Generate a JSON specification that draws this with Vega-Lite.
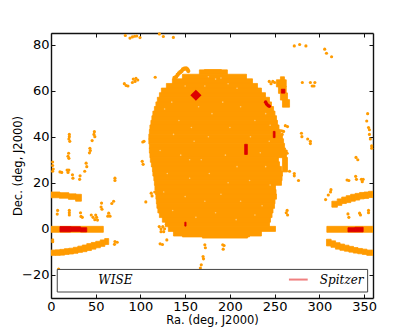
{
"$schema":"https://vega.github.io/schema/vega-lite/v6.json",
"width":322,"height":265,"autosize":"none",
"padding":{"left":51,"top":33,"right":42,"bottom":34},
"background":"white",
"config":{"view":{"stroke":null},"axis":{"grid":false,"domainColor":"#111","domainWidth":1.4,"tickColor":"#111","tickSize":-4,"tickWidth":1,"labelFont":"DejaVu Sans","labelFontSize":13,"labelColor":"#000","titleFont":"DejaVu Sans","titleFontSize":11.5,"titleFontWeight":"normal","titleColor":"#000","labelPadding":4,"zindex":1}},
"datasets":{
"strips":[
{"ra":171.5,"ra2":190.5,"dec":68.6,"dec2":69.1},
{"ra":165.9,"ra2":197.2,"dec":66.9,"dec2":69},
{"ra":146.9,"ra2":218.6,"dec":64.9,"dec2":67.1},
{"ra":135.7,"ra2":225.3,"dec":62.9,"dec2":65.1},
{"ra":129,"ra2":230.9,"dec":60.9,"dec2":63.1},
{"ra":123.4,"ra2":235.3,"dec":58.9,"dec2":61.1},
{"ra":121.2,"ra2":239.8,"dec":56.9,"dec2":59.1},
{"ra":118.9,"ra2":244.3,"dec":54.9,"dec2":57.1},
{"ra":117.3,"ra2":246.5,"dec":52.9,"dec2":55.1},
{"ra":115.6,"ra2":248.8,"dec":50.9,"dec2":53.1},
{"ra":113.9,"ra2":250.4,"dec":48.9,"dec2":51.1},
{"ra":112.8,"ra2":252.1,"dec":46.9,"dec2":49.1},
{"ra":111.7,"ra2":253.2,"dec":44.9,"dec2":47.1},
{"ra":110.6,"ra2":254.9,"dec":42.9,"dec2":45.1},
{"ra":110,"ra2":256.6,"dec":40.9,"dec2":43.1},
{"ra":109.4,"ra2":258.8,"dec":38.9,"dec2":41.1},
{"ra":109.4,"ra2":260,"dec":36.9,"dec2":39.1},
{"ra":110,"ra2":261.1,"dec":34.9,"dec2":37.1},
{"ra":110,"ra2":262.2,"dec":32.9,"dec2":35.1},
{"ra":110.6,"ra2":263.3,"dec":30.9,"dec2":33.1},
{"ra":111.1,"ra2":254.3,"dec":28.9,"dec2":31.1},
{"ra":112.2,"ra2":255.5,"dec":26.9,"dec2":29.1},
{"ra":113.4,"ra2":257.7,"dec":24.9,"dec2":27.1},
{"ra":113.9,"ra2":258.8,"dec":22.9,"dec2":25.1},
{"ra":115,"ra2":258.3,"dec":20.9,"dec2":23.1},
{"ra":115.6,"ra2":257.7,"dec":18.9,"dec2":21.1},
{"ra":116.2,"ra2":251,"dec":16.9,"dec2":19.1},
{"ra":116.7,"ra2":251.6,"dec":14.9,"dec2":17.1},
{"ra":117.3,"ra2":252.1,"dec":12.9,"dec2":15.1},
{"ra":117.8,"ra2":250.4,"dec":10.9,"dec2":13.1},
{"ra":118.4,"ra2":249.9,"dec":8.9,"dec2":11.1},
{"ra":119.5,"ra2":248.2,"dec":6.9,"dec2":9.1},
{"ra":121.2,"ra2":247.1,"dec":4.9,"dec2":7.1},
{"ra":124.5,"ra2":245.4,"dec":2.9,"dec2":5.1},
{"ra":127.9,"ra2":244.3,"dec":0.9,"dec2":3.1},
{"ra":131.2,"ra2":251,"dec":-1.1,"dec2":1.1},
{"ra":136.9,"ra2":235.3,"dec":-3.1,"dec2":-0.9},
{"ra":146.9,"ra2":221.9,"dec":-3.5,"dec2":-2.9},
{"ra":169.3,"ra2":219.7,"dec":-4,"dec2":-3.4},
{"ra":258.8,"ra2":264.4,"dec":24.7,"dec2":31},
{"ra":256.5,"ra2":261,"dec":64.5,"dec2":66},
{"ra":252,"ra2":263,"dec":61.6,"dec2":64.7},
{"ra":254.3,"ra2":263,"dec":58.8,"dec2":61.8},
{"ra":256.5,"ra2":264.4,"dec":55.9,"dec2":59},
{"ra":258.8,"ra2":266.7,"dec":52.8,"dec2":56.1},
{"ra":0,"ra2":10,"dec":13.5,"dec2":16},
{"ra":9.5,"ra2":20,"dec":13.3,"dec2":15.7},
{"ra":19.5,"ra2":28,"dec":12.8,"dec2":15.2},
{"ra":27.5,"ra2":34,"dec":12,"dec2":15},
{"ra":0,"ra2":58.5,"dec":-1.5,"dec2":1.1},
{"ra":308.4,"ra2":360,"dec":-1.5,"dec2":1.1},
{"ra":0,"ra2":5.2,"dec":-11.5,"dec2":-9.2},
{"ra":5,"ra2":10.2,"dec":-11.5,"dec2":-9.1},
{"ra":10,"ra2":15.2,"dec":-11.4,"dec2":-8.9},
{"ra":15,"ra2":20.2,"dec":-11.1,"dec2":-8.6},
{"ra":20,"ra2":25.2,"dec":-10.9,"dec2":-8.4},
{"ra":25,"ra2":30.2,"dec":-10.6,"dec2":-8},
{"ra":30,"ra2":35.2,"dec":-10.2,"dec2":-7.5},
{"ra":35,"ra2":40.2,"dec":-9.9,"dec2":-7},
{"ra":40,"ra2":45.2,"dec":-9.4,"dec2":-6.4},
{"ra":45,"ra2":50.2,"dec":-8.8,"dec2":-5.9},
{"ra":50,"ra2":55.2,"dec":-8.2,"dec2":-5.4},
{"ra":55,"ra2":60.2,"dec":-7.6,"dec2":-4.8},
{"ra":60,"ra2":64.5,"dec":-6.8,"dec2":-4.2},
{"ra":314,"ra2":320.2,"dec":9.4,"dec2":12},
{"ra":320,"ra2":325.2,"dec":10.2,"dec2":13},
{"ra":325,"ra2":330.2,"dec":11,"dec2":13.8},
{"ra":330,"ra2":335.2,"dec":11.4,"dec2":14.4},
{"ra":335,"ra2":340.2,"dec":12,"dec2":15},
{"ra":340,"ra2":345.2,"dec":12.5,"dec2":15.4},
{"ra":345,"ra2":350.2,"dec":13,"dec2":15.8},
{"ra":350,"ra2":355.2,"dec":13.2,"dec2":16},
{"ra":355,"ra2":360,"dec":13.6,"dec2":16.3},
{"ra":308,"ra2":313.2,"dec":-7.4,"dec2":-4.5},
{"ra":313,"ra2":318.2,"dec":-8,"dec2":-5.2},
{"ra":318,"ra2":323.2,"dec":-8.8,"dec2":-6},
{"ra":323,"ra2":328.2,"dec":-9.3,"dec2":-6.6},
{"ra":328,"ra2":333.2,"dec":-9.7,"dec2":-7.1},
{"ra":333,"ra2":338.2,"dec":-10.1,"dec2":-7.6},
{"ra":338,"ra2":343.2,"dec":-10.5,"dec2":-8.1},
{"ra":343,"ra2":348.2,"dec":-10.8,"dec2":-8.5},
{"ra":348,"ra2":353.2,"dec":-11.1,"dec2":-8.8},
{"ra":353,"ra2":360,"dec":-11.5,"dec2":-9.2}
],
"wise":[
{"ra":83.1,"dec":83.9},{"ra":88.3,"dec":82.8},{"ra":91,"dec":83.3},{"ra":93.5,"dec":83.6},{"ra":95.8,"dec":83.7},{"ra":99.5,"dec":83},{"ra":121.2,"dec":84.6},{"ra":125.6,"dec":83.5},{"ra":136.8,"dec":83.1},
{"ra":82,"dec":63},{"ra":84,"dec":62.2},{"ra":86,"dec":62},{"ra":91,"dec":63.5},{"ra":92,"dec":65},{"ra":94,"dec":64},{"ra":95,"dec":65.3},{"ra":97,"dec":64.6},{"ra":116.5,"dec":65.8},
{"ra":20.5,"dec":41},{"ra":20.5,"dec":40},{"ra":20,"dec":39},{"ra":21,"dec":38},{"ra":19.7,"dec":32.8},{"ra":19,"dec":31.5},{"ra":20,"dec":30.6},
{"ra":48.5,"dec":42.2},{"ra":48,"dec":41},{"ra":49,"dec":40},{"ra":46,"dec":38.3},{"ra":43.5,"dec":35},{"ra":44,"dec":34},{"ra":43,"dec":33},
{"ra":39.3,"dec":28.5},{"ra":40,"dec":27},{"ra":37.7,"dec":25},{"ra":1.8,"dec":29},{"ra":1.8,"dec":27.5},{"ra":2.5,"dec":26},{"ra":1.8,"dec":25},{"ra":10,"dec":24.7},{"ra":12,"dec":24.5},
{"ra":18,"dec":25.5},{"ra":20,"dec":25.5},{"ra":19,"dec":24.5},{"ra":24,"dec":23.5},{"ra":24.5,"dec":22},{"ra":32.5,"dec":23},{"ra":32,"dec":21.5},
{"ra":102.6,"dec":37.7},{"ra":104,"dec":38},{"ra":102,"dec":29.3},{"ra":103,"dec":28},{"ra":71.5,"dec":22},{"ra":71.5,"dec":21},{"ra":70,"dec":12},{"ra":68,"dec":11},
{"ra":56.5,"dec":11.2},{"ra":56,"dec":9.5},{"ra":57,"dec":8.5},{"ra":7.4,"dec":8},{"ra":7,"dec":6.4},{"ra":20.5,"dec":8},{"ra":20.5,"dec":7},{"ra":20.5,"dec":6},{"ra":33,"dec":7},{"ra":33.5,"dec":5.4},{"ra":35,"dec":5},
{"ra":45,"dec":6},{"ra":47,"dec":5},{"ra":50,"dec":6},{"ra":51,"dec":5},{"ra":49,"dec":4},{"ra":52,"dec":3.8},{"ra":64.5,"dec":6.8},{"ra":63.5,"dec":5.5},{"ra":66,"dec":5.5},
{"ra":1.9,"dec":-4.8},{"ra":1.9,"dec":-5.6},{"ra":71.5,"dec":-5.5},{"ra":71,"dec":-6.7},{"ra":74,"dec":-5.8},
{"ra":116,"dec":16},{"ra":106,"dec":11.7},{"ra":112,"dec":15.5},{"ra":113,"dec":14.3},
{"ra":129.5,"dec":-4.8},{"ra":124.6,"dec":-6.8},{"ra":122,"dec":-6.5},{"ra":170,"dec":-12},{"ra":170.5,"dec":-13},{"ra":168,"dec":-15.6},{"ra":167,"dec":-17},{"ra":8.5,"dec":-17.4},
{"ra":172.6,"dec":-8.2},{"ra":172,"dec":-6.9},{"ra":192,"dec":-6.9},{"ra":193.5,"dec":-7.2},{"ra":192.5,"dec":-8.8},{"ra":264,"dec":8},{"ra":263,"dec":7},{"ra":264.5,"dec":6},
{"ra":121,"dec":1},{"ra":123,"dec":0},{"ra":125,"dec":1},{"ra":127,"dec":0},{"ra":123,"dec":-1.2},{"ra":126,"dec":-1.2},{"ra":129,"dec":2},
{"ra":313,"dec":17},{"ra":312.5,"dec":16},{"ra":310,"dec":14.7},{"ra":307,"dec":12.7},
{"ra":332,"dec":6.5},{"ra":333,"dec":5},{"ra":345,"dec":6.8},{"ra":346,"dec":6},{"ra":355,"dec":8},{"ra":355,"dec":7},
{"ra":331,"dec":21.2},{"ra":333,"dec":21},{"ra":340.6,"dec":22.8},{"ra":341.5,"dec":21.5},{"ra":347,"dec":21.5},{"ra":349,"dec":21.5},{"ra":348,"dec":20.5},{"ra":341,"dec":31},{"ra":343,"dec":30},
{"ra":280,"dec":41.5},{"ra":280.5,"dec":40},{"ra":287,"dec":39},{"ra":290,"dec":38},{"ra":290,"dec":37},{"ra":266.7,"dec":25},{"ra":272,"dec":24},{"ra":272,"dec":23},{"ra":276.7,"dec":21},
{"ra":354,"dec":50},{"ra":353,"dec":46.8},{"ra":355,"dec":44},{"ra":356,"dec":43},{"ra":357,"dec":39},{"ra":356,"dec":41},{"ra":358.5,"dec":35},{"ra":358.5,"dec":36},
{"ra":272,"dec":79.4},{"ra":278,"dec":80},{"ra":285,"dec":79.4},{"ra":306,"dec":78},{"ra":308,"dec":76.2},{"ra":313.7,"dec":74.7},
{"ra":281,"dec":63.5},{"ra":290,"dec":63.5},{"ra":292,"dec":62},{"ra":295,"dec":63.5},{"ra":294,"dec":62},
{"ra":244,"dec":64},{"ra":246,"dec":63},{"ra":248,"dec":64},{"ra":250,"dec":63.5},
{"ra":262,"dec":44.8},{"ra":264.4,"dec":44.4},{"ra":258,"dec":42.5},{"ra":260,"dec":42.3},{"ra":258.5,"dec":41},{"ra":263,"dec":33.8},{"ra":264,"dec":32.8}
],
"hook":[
{"ra":138,"dec":65.5},{"ra":140,"dec":66},{"ra":141.5,"dec":66.8},{"ra":143,"dec":67.5},{"ra":144.5,"dec":68},{"ra":146,"dec":68.5},{"ra":147.5,"dec":69.2},{"ra":149,"dec":69.5},{"ra":151,"dec":69.6},{"ra":152.5,"dec":69.2},{"ra":153.5,"dec":68.5}
],
"specks":[
{"ra":176,"dec":66},{"ra":184,"dec":65},{"ra":190,"dec":65.5},{"ra":150,"dec":62},{"ra":172,"dec":62},{"ra":198,"dec":63},{"ra":208,"dec":61},{"ra":135,"dec":55},{"ra":127,"dec":52},{"ra":143,"dec":47},{"ra":165,"dec":53},{"ra":180,"dec":50},{"ra":192,"dec":55},{"ra":212,"dec":53},{"ra":228,"dec":47},{"ra":240,"dec":50},{"ra":137,"dec":41},{"ra":157,"dec":44},{"ra":176,"dec":40},{"ra":200,"dec":44},{"ra":223,"dec":40},{"ra":244,"dec":38},{"ra":122,"dec":34},{"ra":145,"dec":32},{"ra":168,"dec":30},{"ra":195,"dec":32},{"ra":208,"dec":27},{"ra":240,"dec":27},{"ra":130,"dec":24},{"ra":155,"dec":22},{"ra":177,"dec":24},{"ra":198,"dec":20},{"ra":222,"dec":21},{"ra":245,"dec":19},{"ra":126,"dec":16},{"ra":150,"dec":14},{"ra":172,"dec":12},{"ra":190,"dec":15},{"ra":212,"dec":12},{"ra":236,"dec":10},{"ra":136,"dec":8},{"ra":162,"dec":5},{"ra":184,"dec":7},{"ra":207,"dec":4},{"ra":228,"dec":6},{"ra":155,"dec":30},{"ra":245,"dec":45},{"ra":160,"dec":38},{"ra":234,"dec":33}
],
"redstrips":[
{"ra":10,"ra2":22,"dec":-1.3,"dec2":1},
{"ra":22,"ra2":33,"dec":-1.1,"dec2":0.9},
{"ra":33,"ra2":40,"dec":-1.3,"dec2":0.5},
{"ra":332,"ra2":340,"dec":-1.3,"dec2":0.5},
{"ra":340,"ra2":349,"dec":-1.3,"dec2":0.7},
{"ra":216.5,"ra2":219.5,"dec":32.3,"dec2":36.7},
{"ra":248.5,"ra2":250.5,"dec":39.6,"dec2":42.3},
{"ra":257.5,"ra2":261.5,"dec":58.9,"dec2":60.6},
{"ra":149.6,"ra2":151,"dec":1.2,"dec2":2.9}
],
"red":[
{"ra":240,"dec":55},{"ra":241,"dec":54.2},{"ra":242.5,"dec":53.6},{"ra":244,"dec":53.2}
],
"diamond":[{"ra":162,"dec":58}],
"box":[{"ra":7,"ra2":354,"dec":-27.4,"dec2":-17.6}],
"labels":[{"ra":72,"dec":-22,"label":"WISE"},{"ra":325,"dec":-22,"label":"Spitzer"}],
"line":[{"ra":266,"ra2":287,"dec":-22}]
},
"encoding":{
"x":{"field":"ra","type":"quantitative","scale":{"domain":[0,360],"nice":false}},
"y":{"field":"dec","type":"quantitative","scale":{"domain":[-30,85],"nice":false}}
},
"layer":[
{"data":{"name":"strips"},"mark":{"type":"rect","color":"#ff9b00","stroke":"#ff9b00","strokeWidth":0.8,"clip":true},
 "encoding":{"x":{"field":"ra","type":"quantitative","title":"Ra. (deg, J2000)","axis":{"orient":"bottom","values":[0,50,100,150,200,250,300,350],"titlePadding":1,"labelPadding":6,"labelFlush":false}},
 "x2":{"field":"ra2"},
 "y":{"field":"dec","type":"quantitative","title":"Dec. (deg, J2000)","axis":{"orient":"left","values":[-20,0,20,40,60,80],"titlePadding":-2,"labelPadding":6}},
 "y2":{"field":"dec2"}}},
{"data":{"name":"wise"},"mark":{"type":"point","filled":true,"color":"#ff9b00","opacity":1,"size":10,"shape":"circle"},
 "encoding":{"x":{"field":"ra","type":"quantitative","axis":{"orient":"top","values":[0,50,100,150,200,250,300,350],"labels":false,"title":null}},
 "y":{"field":"dec","type":"quantitative","axis":{"orient":"right","values":[-20,0,20,40,60,80],"labels":false,"title":null}}}},
{"data":{"name":"hook"},"mark":{"type":"point","filled":true,"color":"#ff9b00","opacity":1,"size":18,"shape":"circle"},
 "encoding":{"x":{"field":"ra","type":"quantitative","axis":null},"y":{"field":"dec","type":"quantitative","axis":null}}},
{"data":{"name":"specks"},"mark":{"type":"point","filled":true,"color":"#ffc870","opacity":1,"size":2.5,"shape":"circle"},
 "encoding":{"x":{"field":"ra","type":"quantitative","axis":null},"y":{"field":"dec","type":"quantitative","axis":null}}},
{"data":{"name":"redstrips"},"mark":{"type":"rect","color":"#dd0000","stroke":"#dd0000","strokeWidth":0.8},
 "encoding":{"x":{"field":"ra","type":"quantitative","axis":null},"x2":{"field":"ra2"},"y":{"field":"dec","type":"quantitative","axis":null},"y2":{"field":"dec2"}}},
{"data":{"name":"red"},"mark":{"type":"point","filled":true,"color":"#dd0000","opacity":1,"size":13,"shape":"circle"},
 "encoding":{"x":{"field":"ra","type":"quantitative","axis":null},"y":{"field":"dec","type":"quantitative","axis":null}}},
{"data":{"name":"diamond"},"mark":{"type":"point","filled":true,"color":"#dd0000","opacity":1,"size":125,"shape":"diamond"},
 "encoding":{"x":{"field":"ra","type":"quantitative","axis":null},"y":{"field":"dec","type":"quantitative","axis":null}}},
{"data":{"name":"box"},"mark":{"type":"rect","fill":"white","stroke":"#444","strokeWidth":1},
 "encoding":{"x":{"field":"ra","type":"quantitative","axis":null},"x2":{"field":"ra2"},"y":{"field":"dec","type":"quantitative","axis":null},"y2":{"field":"dec2"}}},
{"data":{"name":"line"},"mark":{"type":"rule","color":"#f08080","strokeWidth":2},
 "encoding":{"x":{"field":"ra","type":"quantitative","axis":null},"x2":{"field":"ra2"},"y":{"field":"dec","type":"quantitative","axis":null}}},
{"data":{"name":"labels"},"mark":{"type":"text","font":"DejaVu Serif","fontStyle":"italic","fontSize":12,"align":"center","baseline":"middle","color":"#000"},
 "encoding":{"x":{"field":"ra","type":"quantitative","axis":null},"y":{"field":"dec","type":"quantitative","axis":null},"text":{"field":"label"}}}
],
"resolve":{"axis":{"x":"independent","y":"independent"}}
}
